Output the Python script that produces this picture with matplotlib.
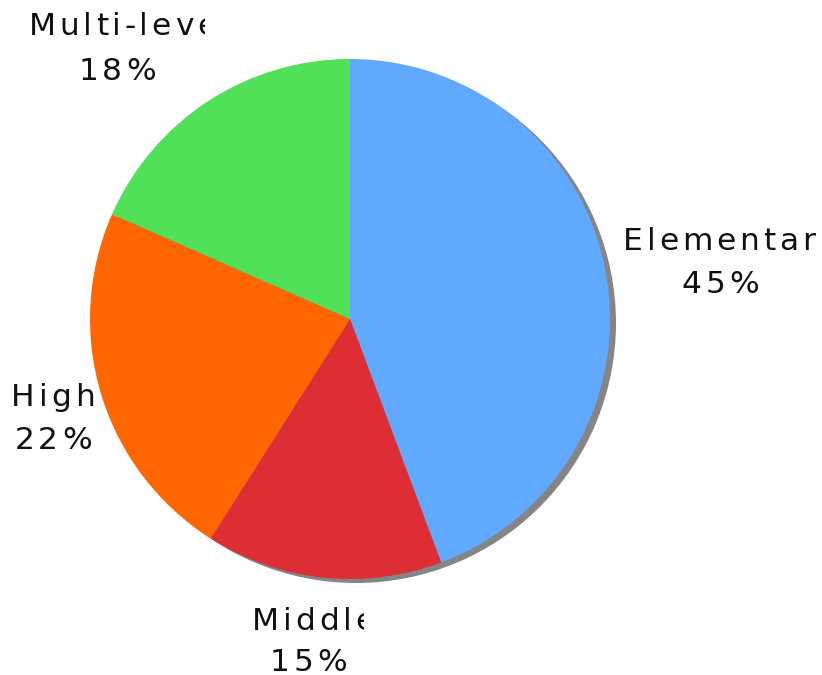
import matplotlib
matplotlib.use("Agg")
import matplotlib.pyplot as plt
from matplotlib.patches import Circle
from matplotlib.transforms import Bbox, TransformedBbox
from matplotlib.font_manager import FontProperties

# data
categories = ['Elementary', 'Middle', 'High', 'Multi-level']
shares = [44.3, 14.7, 22.6, 18.4]
pct_labels = ['45%', '15%', '22%', '18%']
colors = ['#61a8ff', '#de2e35', '#ff6600', '#50e158']

# layout (pixels, image coords with y from the top)
W, H = 822, 675
pie_cx, pie_cy, pie_r = 350, 319, 260
shadow_dx, shadow_dy = 6, 4
box_cx = [720, 308, 53, 117]
box_w = [194, 112, 90, 176]
line1_y = [250, 630, 406, 35]
line2_y = [293, 671, 449, 80]
letter_gap = 3.8

fig = plt.figure(figsize=(W / 100, H / 100), dpi=100)
ax = fig.add_axes([0, 0, 1, 1])

ax.add_patch(Circle((pie_cx + shadow_dx, H - pie_cy - shadow_dy), pie_r,
                    facecolor='#858585', edgecolor='none', zorder=1))
wedges, _ = ax.pie(shares, colors=colors, startangle=90, counterclock=False,
                   center=(pie_cx, H - pie_cy), radius=pie_r,
                   wedgeprops=dict(linewidth=0, zorder=2), frame=True)
ax.set_xlim(0, W)
ax.set_ylim(0, H)
ax.set_aspect('auto')
ax.axis('off')

prop = FontProperties(family='DejaVu Sans', size=22.5)
renderer = fig.canvas.get_renderer()


def text_width(s):
    if not s:
        return 0
    w, h, d = renderer.get_text_width_height_descent(s, prop, ismath=False)
    return w


def spaced_line(s, cx, width, y_img):
    total = text_width(s) + (len(s) - 1) * letter_gap
    if total > width:
        x0 = cx - width / 2
    else:
        x0 = cx - total / 2
    clip = TransformedBbox(Bbox([[cx - width / 2, 0], [cx + width / 2, H]]),
                           ax.transData)
    for i, ch in enumerate(s):
        x = x0 + text_width(s[:i]) + i * letter_gap
        t = ax.text(x, H - y_img, ch, fontproperties=prop, color='#111111',
                    ha='left', va='baseline', zorder=5)
        t.set_clip_on(True)
        t.set_clip_box(clip)


for i, name in enumerate(categories):
    spaced_line(name, box_cx[i], box_w[i], line1_y[i])
    spaced_line(pct_labels[i], box_cx[i], box_w[i], line2_y[i])

plt.savefig('out.png', dpi=100)
